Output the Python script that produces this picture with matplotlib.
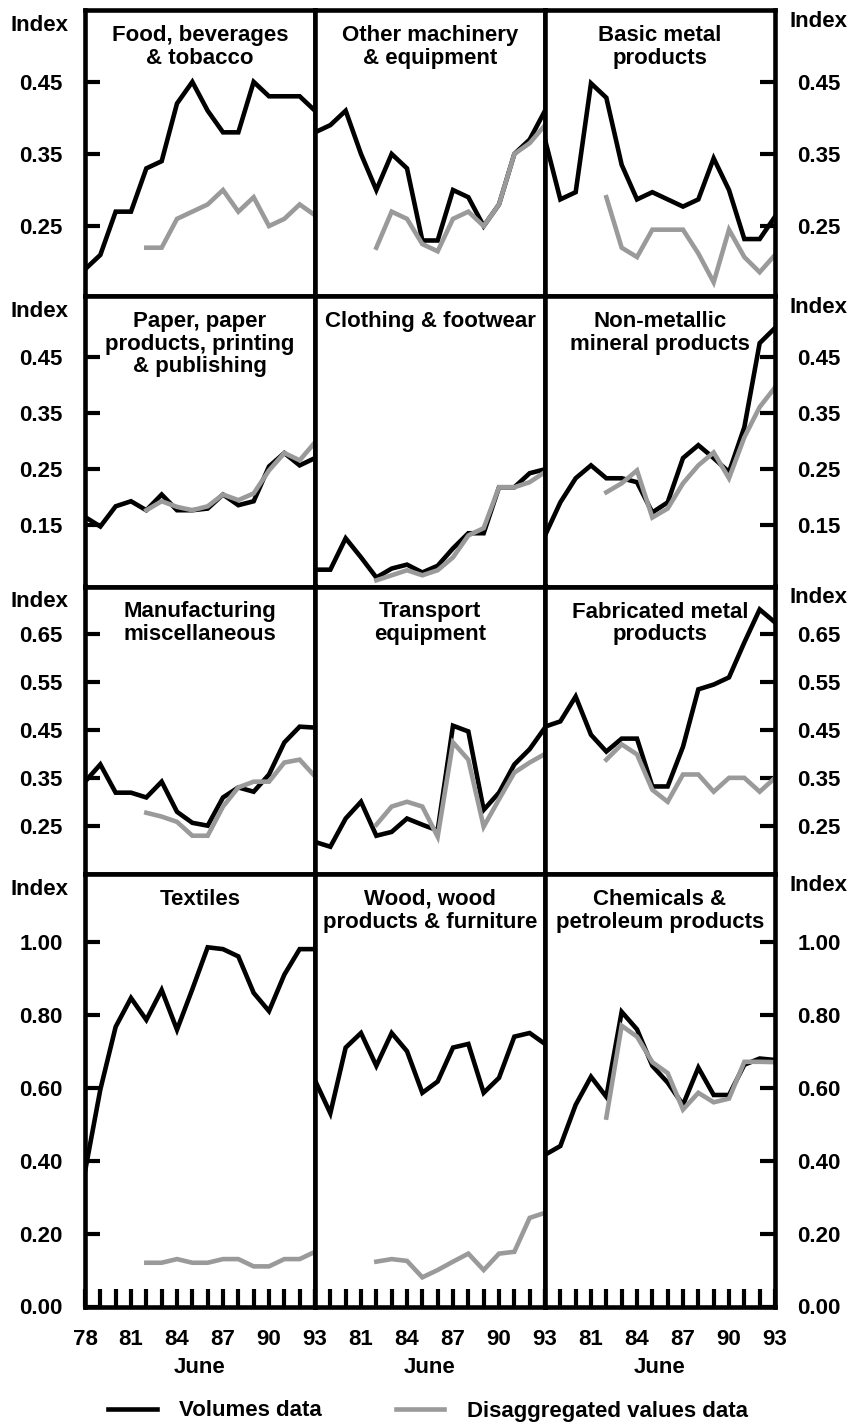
import numpy as np
import matplotlib.pyplot as plt

plt.rcParams['font.family'] = ['Liberation Sans', 'DejaVu Sans']
plt.rcParams['font.weight'] = 'bold'
plt.rcParams['axes.labelweight'] = 'bold'
plt.rcParams['font.size'] = 16

# June of each year, 1978-1993; disaggregated series starts in 1982
years = np.arange(78, 94)
years_dis = np.arange(82, 94)

titles = [
    "Food, beverages\n& tobacco", "Other machinery\n& equipment", "Basic metal\nproducts",
    "Paper, paper\nproducts, printing\n& publishing", "Clothing & footwear", "Non-metallic\nmineral products",
    "Manufacturing\nmiscellaneous", "Transport\nequipment", "Fabricated metal\nproducts",
    "Textiles", "Wood, wood\nproducts & furniture", "Chemicals &\npetroleum products",
]

food_vol = [0.19, 0.21, 0.27, 0.27, 0.33, 0.34, 0.42, 0.45, 0.41, 0.38, 0.38, 0.45, 0.43, 0.43, 0.43, 0.41]
food_dis = [0.22, 0.22, 0.26, 0.27, 0.28, 0.30, 0.27, 0.29, 0.25, 0.26, 0.28, 0.265]
mach_vol = [0.38, 0.39, 0.41, 0.35, 0.30, 0.35, 0.33, 0.23, 0.23, 0.30, 0.29, 0.25, 0.28, 0.35, 0.37, 0.41]
mach_dis = [0.22, 0.27, 0.26, 0.225, 0.215, 0.26, 0.27, 0.25, 0.28, 0.35, 0.365, 0.39]
basic_vol = [0.37, 0.287, 0.297, 0.448, 0.428, 0.335, 0.287, 0.297, 0.287, 0.277, 0.287, 0.344, 0.30, 0.232, 0.232, 0.263]
basic_dis = [0.29, 0.22, 0.207, 0.245, 0.245, 0.245, 0.212, 0.172, 0.245, 0.207, 0.186, 0.21]

paper_vol = [0.165, 0.148, 0.184, 0.193, 0.177, 0.205, 0.177, 0.177, 0.18, 0.205, 0.186, 0.193, 0.255, 0.279, 0.257, 0.27]
paper_dis = [0.177, 0.193, 0.183, 0.177, 0.184, 0.205, 0.195, 0.207, 0.248, 0.279, 0.266, 0.298]
cloth_vol = [0.071, 0.071, 0.127, 0.093, 0.057, 0.073, 0.08, 0.066, 0.078, 0.109, 0.136, 0.136, 0.218, 0.218, 0.243, 0.25]
cloth_dis = [0.052, 0.061, 0.07, 0.061, 0.07, 0.093, 0.132, 0.145, 0.218, 0.218, 0.227, 0.245]
nonmet_vol = [0.132, 0.191, 0.234, 0.257, 0.234, 0.234, 0.227, 0.173, 0.191, 0.27, 0.293, 0.27, 0.245, 0.325, 0.475, 0.502]
nonmet_dis = [0.209, 0.225, 0.248, 0.164, 0.18, 0.225, 0.257, 0.28, 0.234, 0.307, 0.361, 0.396]

misc_vol = [0.342, 0.378, 0.319, 0.319, 0.309, 0.342, 0.279, 0.256, 0.25, 0.309, 0.33, 0.321, 0.357, 0.424, 0.457, 0.455]
misc_dis = [0.277, 0.269, 0.258, 0.229, 0.229, 0.29, 0.33, 0.342, 0.342, 0.382, 0.388, 0.353]
trans_vol = [0.216, 0.206, 0.265, 0.30, 0.229, 0.237, 0.265, 0.252, 0.24, 0.459, 0.447, 0.283, 0.319, 0.378, 0.41, 0.455]
trans_dis = [0.252, 0.29, 0.30, 0.29, 0.227, 0.424, 0.388, 0.248, 0.305, 0.361, 0.382, 0.40]
fab_vol = [0.457, 0.468, 0.52, 0.44, 0.405, 0.432, 0.432, 0.332, 0.332, 0.415, 0.535, 0.545, 0.56, 0.633, 0.702, 0.675]
fab_dis = [0.388, 0.42, 0.399, 0.325, 0.30, 0.357, 0.357, 0.321, 0.35, 0.35, 0.321, 0.35]

text_vol = [0.37, 0.595, 0.767, 0.846, 0.786, 0.868, 0.759, 0.87, 0.985, 0.98, 0.96, 0.86, 0.81, 0.91, 0.98, 0.98]
text_dis = [0.12, 0.12, 0.13, 0.12, 0.12, 0.13, 0.13, 0.11, 0.11, 0.13, 0.13, 0.15]
wood_vol = [0.62, 0.53, 0.71, 0.75, 0.66, 0.75, 0.70, 0.586, 0.617, 0.71, 0.72, 0.586, 0.627, 0.74, 0.75, 0.72]
wood_dis = [0.123, 0.13, 0.125, 0.08, 0.10, 0.123, 0.145, 0.10, 0.145, 0.15, 0.243, 0.257]
chem_vol = [0.416, 0.44, 0.553, 0.63, 0.575, 0.808, 0.76, 0.66, 0.614, 0.553, 0.655, 0.58, 0.58, 0.663, 0.68, 0.676]
chem_dis = [0.518, 0.77, 0.74, 0.67, 0.64, 0.54, 0.586, 0.56, 0.57, 0.671, 0.671, 0.67]

vol_series = [food_vol, mach_vol, basic_vol, paper_vol, cloth_vol, nonmet_vol,
              misc_vol, trans_vol, fab_vol, text_vol, wood_vol, chem_vol]
dis_series = [food_dis, mach_dis, basic_dis, paper_dis, cloth_dis, nonmet_dis,
              misc_dis, trans_dis, fab_dis, text_dis, wood_dis, chem_dis]

row_ylims = [(0.153, 0.549), (0.041, 0.559), (0.149, 0.75), (0.0, 1.186)]
row_yticks = [[0.25, 0.35, 0.45], [0.15, 0.25, 0.35, 0.45],
              [0.25, 0.35, 0.45, 0.55, 0.65], [0.0, 0.2, 0.4, 0.6, 0.8, 1.0]]

W, H = 851, 1425
col_x = [85, 315, 545, 775]
row_y = [10.5, 296, 586.5, 874, 1306.5]
GREY = '#9a9a9a'
LW = 3.3

fig = plt.figure(figsize=(W / 100, H / 100), dpi=100)

for i in range(12):
    r, c = divmod(i, 3)
    x0, x1 = col_x[c], col_x[c + 1]
    yt, yb = row_y[r], row_y[r + 1]
    ax = fig.add_axes([x0 / W, 1 - yb / H, (x1 - x0) / W, (yb - yt) / H])

    ax.plot(years, vol_series[i], color='black', lw=LW, solid_joinstyle='miter')
    ax.plot(years_dis, dis_series[i], color=GREY, lw=LW, solid_joinstyle='miter')

    ax.set_xlim(78, 93)
    ax.set_ylim(*row_ylims[r])
    for s in ax.spines.values():
        s.set_linewidth(3.3)

    ax.text(0.5, 1 - 15 / (yb - yt), titles[i], transform=ax.transAxes,
            ha='center', va='top', linespacing=1.1)

    # y axis: ticks only on outer columns
    ax.set_yticks(row_yticks[r])
    ax.set_yticklabels([f"{v:.2f}" for v in row_yticks[r]])
    if c == 0:
        ax.tick_params(axis='y', direction='in', length=11, width=3, pad=16,
                       left=True, right=False, labelleft=True, labelright=False)
        ax.annotate("Index", xy=(0, 1), xycoords='axes fraction', xytext=(-33, -11),
                    textcoords='offset points', ha='center', va='center')
    elif c == 2:
        ax.tick_params(axis='y', direction='in', length=11, width=3, pad=16,
                       left=False, right=True, labelleft=False, labelright=True)
        ax.annotate("Index", xy=(1, 1), xycoords='axes fraction', xytext=(31, -8),
                    textcoords='offset points', ha='center', va='center')
    else:
        ax.tick_params(axis='y', left=False, right=False, labelleft=False)

    # x axis: only bottom row has year marks and labels
    if r == 3:
        ax.set_xticks(years)
        labs = [str(y) if (y - 78) % 3 == 0 else '' for y in years]
        if c > 0:
            labs[0] = ''
        ax.set_xticklabels(labs)
        ax.tick_params(axis='x', direction='in', length=13, width=3, pad=16)
        ax.set_xlabel("June", labelpad=5)
    else:
        ax.set_xticks([])

handles = [plt.Line2D([], [], color='black', lw=LW),
           plt.Line2D([], [], color=GREY, lw=LW)]
fig.legend(handles, ["Volumes data", "Disaggregated values data"],
           loc='center', bbox_to_anchor=(428 / W, 1 - 1411 / H), ncol=2,
           frameon=False, handlelength=2.2, handletextpad=1.0, columnspacing=3.3)

fig.savefig("out.png", dpi=100)
